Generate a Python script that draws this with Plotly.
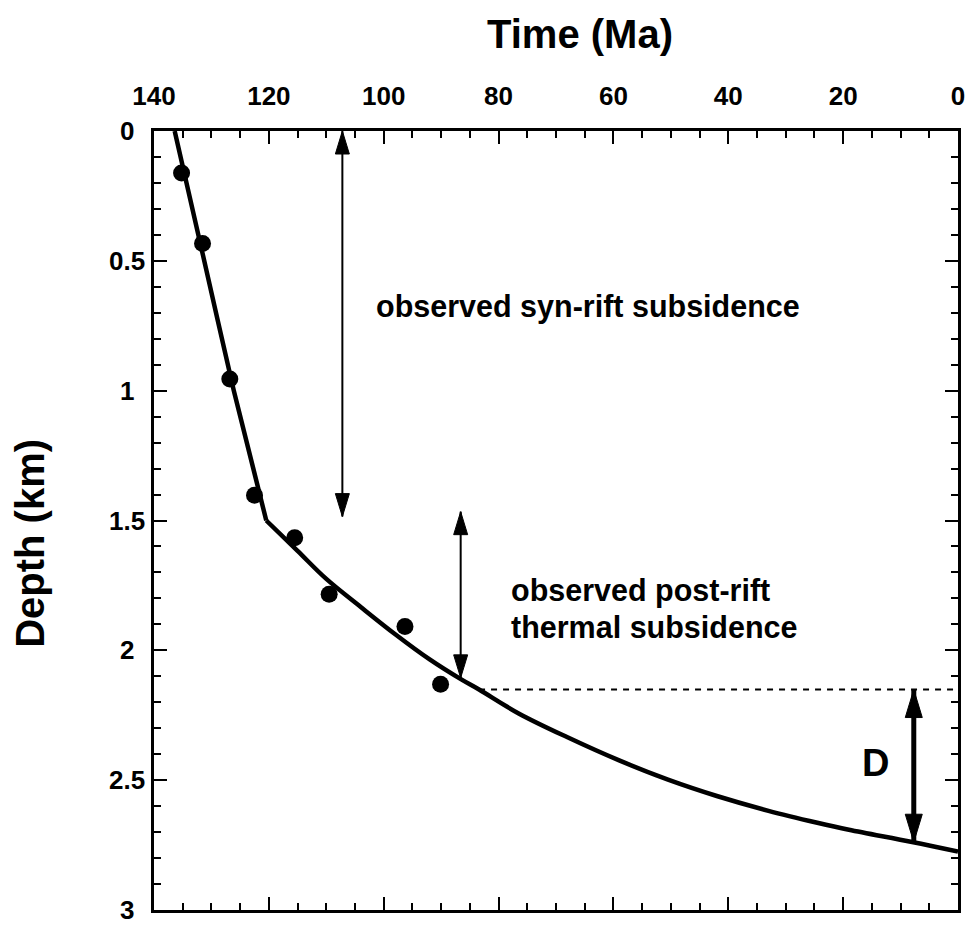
import plotly.graph_objects as go

# ---- data ----
obs_time = [135.2, 131.55, 126.8, 122.5, 115.5, 109.5, 96.3, 90.1]
obs_depth = [0.162, 0.433, 0.955, 1.403, 1.566, 1.784, 1.908, 2.131]

synrift_time = [136.4, 131.7, 126.1, 120.45]
synrift_depth = [0.0, 0.456, 1.0, 1.50]

postrift_time = [120.45, 115.0, 110.0, 104.0, 98.0, 92.0, 86.5, 83.4,
                 76.5, 68.0, 59.0, 50.5, 42.0, 33.0, 24.5, 19.0, 8.0, 0.0]
postrift_depth = [1.50, 1.617, 1.725, 1.833, 1.938, 2.035, 2.112, 2.151,
                  2.243, 2.335, 2.424, 2.498, 2.561, 2.618, 2.664, 2.691, 2.738, 2.775]

# reference level (dotted) and arrows
level_time = [83.4, 0.0]
level_depth = [2.151, 2.151]
synrift_arrow_time = 107.2
synrift_arrow_depth = [0.0, 1.485]
postrift_arrow_time = 86.6
postrift_arrow_depth = [1.466, 2.106]
d_arrow_time = 7.7
d_arrow_depth = [2.151, 2.739]

x_ticks = [140, 120, 100, 80, 60, 40, 20, 0]
y_ticks = [0, 0.5, 1, 1.5, 2, 2.5, 3]
y_tick_labels = ["0", "0.5", "1", "1.5", "2", "2.5", "3"]

FONT = "Liberation Sans, Arial, Helvetica, sans-serif"

fig = go.Figure()

fig.add_trace(go.Scatter(x=level_time, y=level_depth, mode="lines",
                         line=dict(color="black", width=2, dash="6px,6px"),
                         showlegend=False, hoverinfo="skip"))
fig.add_trace(go.Scatter(x=synrift_time, y=synrift_depth, mode="lines",
                         line=dict(color="black", width=4.5, shape="spline", smoothing=0.6),
                         showlegend=False))
fig.add_trace(go.Scatter(x=postrift_time, y=postrift_depth, mode="lines",
                         line=dict(color="black", width=4.5, shape="spline", smoothing=1.0),
                         showlegend=False))
fig.add_trace(go.Scatter(x=obs_time, y=obs_depth, mode="markers",
                         marker=dict(color="black", size=17),
                         showlegend=False))

shapes = []


def double_arrow(t, d0, d1, lw, hl, hw):
    # shaft
    shapes.append(dict(type="line", xref="x", yref="y", x0=t, x1=t, y0=d0, y1=d1,
                       line=dict(color="black", width=lw), layer="above"))
    # top head (pointing up; pixel y positive is up)
    shapes.append(dict(type="path", xref="x", yref="y", xsizemode="pixel", ysizemode="pixel",
                       xanchor=t, yanchor=d0,
                       path=f"M0,0 L{-hw},{-hl} L{hw},{-hl} Z",
                       fillcolor="black", line=dict(color="black", width=1), layer="above"))
    # bottom head (pointing down)
    shapes.append(dict(type="path", xref="x", yref="y", xsizemode="pixel", ysizemode="pixel",
                       xanchor=t, yanchor=d1,
                       path=f"M0,0 L{-hw},{hl} L{hw},{hl} Z",
                       fillcolor="black", line=dict(color="black", width=1), layer="above"))


double_arrow(synrift_arrow_time, *synrift_arrow_depth, 2, 23, 7)
double_arrow(postrift_arrow_time, *postrift_arrow_depth, 2, 23, 7)
double_arrow(d_arrow_time, *d_arrow_depth, 5, 28, 8.5)

TXT = dict(family=FONT, size=30.5, color="black", weight="bold")
annotations = [
    dict(text="observed syn-rift subsidence", x=101.7, y=0.675, xref="x", yref="y",
         xanchor="left", yanchor="middle", showarrow=False, font=TXT),
    dict(text="observed post-rift", x=78.2, y=1.77, xref="x", yref="y",
         xanchor="left", yanchor="middle", showarrow=False, font=TXT),
    dict(text="thermal subsidence", x=78.2, y=1.91, xref="x", yref="y",
         xanchor="left", yanchor="middle", showarrow=False, font=TXT),
    dict(text="D", x=14.4, y=2.432, xref="x", yref="y", xanchor="center", yanchor="middle",
         showarrow=False, font=dict(family=FONT, size=38, color="black", weight="bold")),
    dict(text="Time (Ma)", x=0.530, y=1.125, xref="paper", yref="paper",
         xanchor="center", yanchor="middle", showarrow=False,
         font=dict(family=FONT, size=40, color="black", weight="bold")),
    dict(text="Depth (km)", x=-0.1537, y=0.4706, xref="paper", yref="paper", textangle=-90,
         xanchor="center", yanchor="middle", showarrow=False,
         font=dict(family=FONT, size=40, color="black", weight="bold")),
]
for v, lab in zip(y_ticks, y_tick_labels):
    annotations.append(dict(text=lab, x=0, xshift=-27, y=v, xref="paper", yref="y",
                            xanchor="center", yanchor="middle", showarrow=False,
                            font=dict(family=FONT, size=26, color="black", weight="bold")))

fig.update_layout(
    width=977, height=925,
    margin=dict(l=154, r=16, t=131, b=12),
    paper_bgcolor="white", plot_bgcolor="white",
    shapes=shapes, annotations=annotations,
    showlegend=False,
)
fig.update_xaxes(
    range=[140, 0], side="top", tickvals=x_ticks,
    showgrid=False, zeroline=False,
    showline=True, linecolor="black", linewidth=3, mirror="allticks",
    ticks="inside", ticklen=13, tickwidth=2, tickcolor="black",
    minor=dict(dtick=5, ticks="inside", ticklen=7, tickwidth=2, tickcolor="black", showgrid=False),
    ticklabelstandoff=13,
    tickfont=dict(family=FONT, size=26, color="black", weight="bold"),
)
fig.update_yaxes(
    range=[3, 0], tickvals=y_ticks, showticklabels=False,
    showgrid=False, zeroline=False,
    showline=True, linecolor="black", linewidth=3, mirror="allticks",
    ticks="inside", ticklen=13, tickwidth=2, tickcolor="black",
    minor=dict(dtick=0.1, ticks="inside", ticklen=7, tickwidth=2, tickcolor="black", showgrid=False),
)

fig.write_html("out.html")
